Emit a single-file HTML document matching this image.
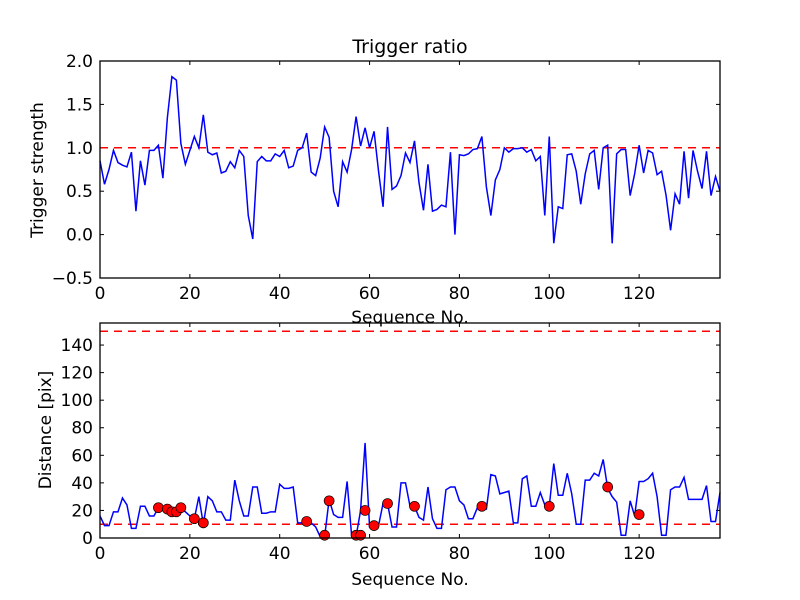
<!DOCTYPE html>
<html><head><meta charset="utf-8"><style>
html,body{margin:0;padding:0;background:#fff}
svg{display:block;font-family:"DejaVu Sans","Liberation Sans",sans-serif}
</style></head><body>
<svg id="chart" width="800" height="600" viewBox="0 0 800 600">
<rect x="0" y="0" width="800" height="600" fill="#fff"/>
</svg>
<script>
const ratioValues=[0.85,0.58,0.75,0.97,0.83,0.8,0.78,0.95,0.27,0.85,0.57,0.97,0.97,1.03,0.65,1.35,1.82,1.78,1.05,0.81,0.97,1.13,1.0,1.38,0.95,0.92,0.94,0.71,0.73,0.84,0.77,0.97,0.9,0.22,-0.05,0.84,0.9,0.85,0.85,0.93,0.9,0.97,0.77,0.79,0.97,1.0,1.17,0.72,0.68,0.88,1.24,1.12,0.5,0.32,0.84,0.72,0.98,1.36,1.02,1.23,1.0,1.19,0.73,0.32,1.24,0.52,0.56,0.68,0.94,0.83,1.08,0.6,0.28,0.81,0.27,0.29,0.34,0.32,0.95,0.0,0.92,0.91,0.93,0.98,0.99,1.13,0.55,0.22,0.63,0.75,1.0,0.95,0.99,0.99,1.0,0.95,0.98,0.85,0.9,0.22,1.13,-0.1,0.32,0.3,0.92,0.93,0.73,0.35,0.7,0.93,0.97,0.52,1.0,1.03,-0.1,0.93,0.98,0.98,0.45,0.7,1.03,0.71,0.97,0.94,0.69,0.73,0.45,0.05,0.47,0.35,0.96,0.42,0.97,0.73,0.53,0.96,0.45,0.67,0.5];
const distValues=[16,9,9,19,19,29,24,7,7,23,23,16,16,22,21,20,18,18,22,19,16,14,30,10,30,27,19,19,13,13,42,27,16,16,37,37,18,18,19,19,39,36,36,37,11,11,11,11,8,1,1,28,17,15,15,41,2,1,20,69,8,8,9,25,25,8,8,40,40,23,23,15,13,37,14,7,7,35,37,37,27,24,14,14,22,22,21,46,45,32,33,34,11,11,43,45,23,23,33,24,23,54,31,31,47,32,10,10,42,42,47,45,57,36,30,26,2,2,27,16,41,41,43,47,30,2,2,35,37,37,44,28,28,28,28,38,12,12,33];
const markerX=[13,15,16,17,18,21,23,46,50,51,57,58,59,61,64,70,85,100,113,120];
const markerY=[22,21,19,19,22,14,11,12,2,27,2,2,20,9,25,23,23,23,37,17];
const xTicks=[0,20,40,60,80,100,120];
const topYTicks=[-0.5,0.0,0.5,1.0,1.5,2.0];
const botYTicks=[0,20,40,60,80,100,120,140];
const topThreshold=1.0;
const botThresholds=[10,150];

const NS="http://www.w3.org/2000/svg";
const svg=document.getElementById('chart');
function mk(tag,attrs,parent){const e=document.createElementNS(NS,tag);for(const k in attrs)e.setAttribute(k,attrs[k]);(parent||svg).appendChild(e);return e;}
const L=100,R=720,xMax=138,FS=17;
const sx=v=>L+(R-L)*v/xMax;
function panel(top,bottom,yMin,yMax,yTicks,fmt,name){
  const sy=v=>bottom-(bottom-top)*(v-yMin)/(yMax-yMin);
  const g=mk('g',{});
  
  
  xTicks.forEach(t=>{
    const x=sx(t);
    const a=mk('line',{x1:x,x2:x,y1:bottom,y2:bottom-4,stroke:'#000','stroke-width':1},g);
    
    
    mk('line',{x1:x,x2:x,y1:top,y2:top+4,stroke:'#000','stroke-width':1},g);
    const tx=mk('text',{x:x,y:bottom+21,'text-anchor':'middle','font-size':FS},g);
    tx.textContent=t;
    
    
  });
  yTicks.forEach(t=>{
    const y=sy(t);
    mk('line',{x1:L,x2:L+4,y1:y,y2:y,stroke:'#000','stroke-width':1},g);
    mk('line',{x1:R,x2:R-4,y1:y,y2:y,stroke:'#000','stroke-width':1},g);
    const tx=mk('text',{x:L-7,y:y+6,'text-anchor':'end','font-size':FS},g);
    tx.textContent=fmt(t);
    
    
  });
  return {g,sy};
}
const T=panel(61,278,-0.5,2.0,topYTicks,t=>t.toFixed(1).replace('-','\u2212'),'ratio');
const tl=mk('line',{x1:L,x2:R,y1:T.sy(topThreshold),y2:T.sy(topThreshold),stroke:'#f00','stroke-width':1.5,'stroke-dasharray':'8,6'},T.g);


const tp=mk('polyline',{points:ratioValues.map((v,i)=>sx(i)+','+T.sy(v)).join(' '),fill:'none',stroke:'#00f','stroke-width':1.5},T.g);


const tf=mk('rect',{x:L,y:61,width:R-L,height:217,fill:'none',stroke:'#000','stroke-width':1.3},T.g);


const B=panel(323,538,0,156,botYTicks,t=>String(t),'distance');
botThresholds.forEach(v=>{
  const l=mk('line',{x1:L,x2:R,y1:B.sy(v),y2:B.sy(v),stroke:'#f00','stroke-width':1.5,'stroke-dasharray':'8,6'},B.g);
  
  
});
const bp=mk('polyline',{points:distValues.map((v,i)=>sx(i)+','+B.sy(v)).join(' '),fill:'none',stroke:'#00f','stroke-width':1.5},B.g);


markerX.forEach((x,i)=>{
  const c=mk('circle',{cx:sx(x),cy:B.sy(markerY[i]),r:5,fill:'#f00',stroke:'#000','stroke-width':0.7},B.g);
  
  
});
const bf=mk('rect',{x:L,y:323,width:R-L,height:215,fill:'none',stroke:'#000','stroke-width':1.3},B.g);


const title=mk('text',{x:410,y:53,'text-anchor':'middle','font-size':19});
title.textContent='Trigger ratio';


const xl1=mk('text',{x:410,y:323,'text-anchor':'middle','font-size':FS});
xl1.textContent='Sequence No.';


const xl2=mk('text',{x:410,y:585,'text-anchor':'middle','font-size':FS});
xl2.textContent='Sequence No.';


const yl1=mk('text',{x:0,y:0,'text-anchor':'middle','font-size':FS,transform:'translate(43,170) rotate(-90)'});
yl1.textContent='Trigger strength';


const yl2=mk('text',{x:0,y:0,'text-anchor':'middle','font-size':FS,transform:'translate(51,430) rotate(-90)'});
yl2.textContent='Distance [pix]';


</script>
</body></html>
